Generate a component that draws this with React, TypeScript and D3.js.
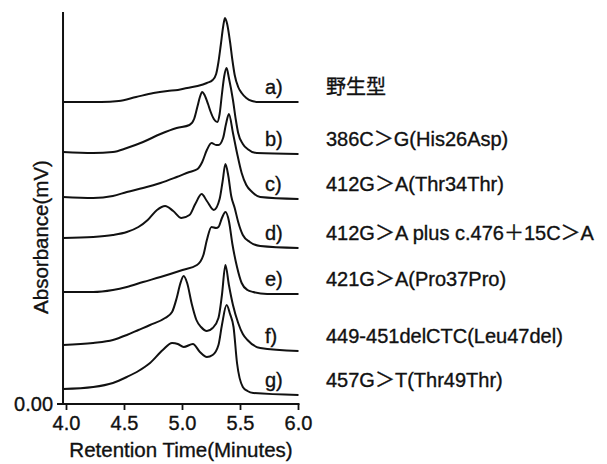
import { useRef, useEffect } from 'react';
import * as d3 from 'd3';

const W = 607;
const H = 464;

// retention time (min) vs absorbance (arbitrary mV, traces stacked)
const traceA: [number, number][] = [[3.97, 302], [4.3, 302], [4.45, 303], [4.6, 307], [4.75, 311], [4.87, 313], [4.96, 314], [5.04, 316], [5.13, 318], [5.21, 321], [5.26, 324], [5.29, 330], [5.31, 342], [5.33, 359], [5.35, 377], [5.366, 386], [5.385, 380], [5.41, 362], [5.43, 344], [5.45, 329], [5.48, 317], [5.51, 311], [5.55, 306], [5.6, 303], [5.66, 302], [6.0, 302]];
const traceB: [number, number][] = [[3.97, 252], [4.23, 251], [4.4, 252], [4.52, 256], [4.66, 262], [4.81, 270], [4.95, 276], [5.06, 279], [5.1, 285], [5.13, 298], [5.15, 307], [5.17, 312], [5.19, 309], [5.22, 300], [5.24, 293], [5.27, 285], [5.3, 282], [5.32, 290], [5.34, 310], [5.36, 328], [5.38, 336], [5.4, 326], [5.435, 304], [5.46, 284], [5.48, 271], [5.52, 260], [5.56, 255], [5.64, 251], [6.0, 250]];
const traceC: [number, number][] = [[3.97, 207], [4.23, 206], [4.4, 208], [4.52, 212], [4.66, 216], [4.81, 221], [4.95, 227], [5.06, 232], [5.13, 235], [5.17, 242], [5.21, 254], [5.25, 261], [5.29, 259], [5.31, 259], [5.35, 266], [5.375, 280], [5.4, 290], [5.435, 271], [5.47, 251], [5.51, 231], [5.55, 219], [5.6, 212], [5.67, 207], [6.0, 205]];
const traceD: [number, number][] = [[3.97, 166], [4.23, 167], [4.4, 169], [4.52, 172], [4.62, 177], [4.7, 184], [4.78, 194], [4.85, 198], [4.92, 193], [4.99, 186], [5.06, 189], [5.11, 200], [5.165, 210], [5.21, 203], [5.27, 194], [5.32, 205], [5.345, 222], [5.37, 240], [5.395, 228], [5.42, 208], [5.45, 196], [5.48, 182], [5.52, 169], [5.58, 162], [5.67, 158], [6.0, 156]];
const traceE: [number, number][] = [[3.97, 112], [4.23, 112], [4.4, 114], [4.52, 117], [4.66, 122], [4.81, 127], [5.0, 134], [5.125, 139], [5.18, 149], [5.21, 164], [5.25, 177], [5.29, 176], [5.31, 177], [5.34, 186], [5.37, 192], [5.4, 183], [5.43, 160], [5.47, 137], [5.51, 121], [5.56, 114], [5.61, 112], [5.73, 110], [6.0, 110]];
const traceF: [number, number][] = [[3.97, 59], [4.23, 61], [4.4, 64], [4.52, 69], [4.62, 74], [4.72, 79], [4.85, 86], [4.91, 92], [4.95, 106], [4.98, 120], [5.01, 128], [5.04, 121], [5.08, 100], [5.12, 84], [5.16, 77], [5.21, 73], [5.26, 76], [5.31, 86], [5.34, 109], [5.37, 139], [5.4, 119], [5.435, 99], [5.48, 81], [5.52, 70], [5.56, 64], [5.67, 56], [6.0, 53]];
const traceG: [number, number][] = [[3.97, 15], [4.23, 17], [4.4, 21], [4.52, 27], [4.62, 33], [4.72, 41], [4.83, 54], [4.91, 61], [4.96, 60], [5.01, 57], [5.09, 60], [5.15, 52], [5.21, 47], [5.26, 49], [5.31, 59], [5.34, 79], [5.38, 99], [5.41, 90], [5.44, 77], [5.47, 41], [5.52, 17], [5.56, 13], [5.61, 11], [6.0, 9]];

const traces = [traceA, traceB, traceC, traceD, traceE, traceF, traceG];
const letters = ['a)', 'b)', 'c)', 'd)', 'e)', 'f)', 'g)'];
const variants = [
  '野生型',
  '386C＞G(His26Asp)',
  '412G＞A(Thr34Thr)',
  '412G＞A plus c.476＋15C＞A',
  '421G＞A(Pro37Pro)',
  '449-451delCTC(Leu47del)',
  '457G＞T(Thr49Thr)',
];

const xTicks = [4.0, 4.5, 5.0, 5.5, 6.0];
const yTicks = [0];

const FONT = "'Liberation Sans', Arial, 'Noto Sans CJK JP', sans-serif";
const INK = '#111';

export default function App() {
  const svgRef = useRef<SVGSVGElement>(null);

  useEffect(() => {
    const svg = d3.select(svgRef.current);
    svg.selectAll('*').remove();

    const x = d3.scaleLinear().domain([4, 6]).range([66.5, 298.5]);
    const y = d3.scaleLinear().domain([0, 392]).range([404, 12]);
    const axisX = x(3.97);

    svg.append('rect').attr('width', W).attr('height', H).attr('fill', '#fff');

    const line = d3
      .line<[number, number]>()
      .x((d) => x(d[0]))
      .y((d) => y(d[1]))
      .curve(d3.curveMonotoneX);

    // little helper, text looks a bit heavy in the scan
    const label = (tx: number, ty: number, s: string, size = 20) =>
      svg
        .append('text')
        .attr('x', tx)
        .attr('y', ty)
        .attr('font-family', FONT)
        .attr('font-size', size)
        .attr('fill', INK)
        .attr('stroke', INK)
        .attr('stroke-width', 0.35)
        .text(s);

    // traces
    traces.forEach((t) => {
      svg
        .append('path')
        .attr('d', line(t))
        .attr('fill', 'none')
        .attr('stroke', INK)
        .attr('stroke-width', 2)
        .attr('stroke-linejoin', 'round');
    });

    // axes
    svg
      .append('line')
      .attr('x1', axisX)
      .attr('x2', axisX)
      .attr('y1', y(392))
      .attr('y2', y(0))
      .attr('stroke', INK)
      .attr('stroke-width', 2);
    svg
      .append('line')
      .attr('x1', axisX - 6)
      .attr('x2', x(6) + 1)
      .attr('y1', y(0))
      .attr('y2', y(0))
      .attr('stroke', INK)
      .attr('stroke-width', 2);

    xTicks.forEach((t) => {
      svg
        .append('line')
        .attr('x1', x(t))
        .attr('x2', x(t))
        .attr('y1', y(0))
        .attr('y2', y(0) + 6)
        .attr('stroke', INK)
        .attr('stroke-width', 1.8);
      label(x(t), y(0) + 26, t.toFixed(1)).attr('text-anchor', 'middle');
    });

    yTicks.forEach((t) => {
      label(axisX - 10, y(t) + 7, t.toFixed(2)).attr('text-anchor', 'end');
    });

    // axis titles
    label(181, 457, 'Retention Time(Minutes)', 20.5).attr('text-anchor', 'middle');
    label(0, 0, 'Absorbance(mV)', 20.5)
      .attr('transform', `translate(48, 237) rotate(-90)`)
      .attr('text-anchor', 'middle');

    // labels next to each trace end
    traces.forEach((t, i) => {
      const yb = y(t[t.length - 1][1]) - 8;
      label(265, yb, letters[i]);
      label(326, yb, variants[i]);
    });
  }, []);

  return (
    <svg
      ref={svgRef}
      width={W}
      height={H}
      style={{ position: 'absolute', left: 0, top: 0, display: 'block' }}
    />
  );
}
